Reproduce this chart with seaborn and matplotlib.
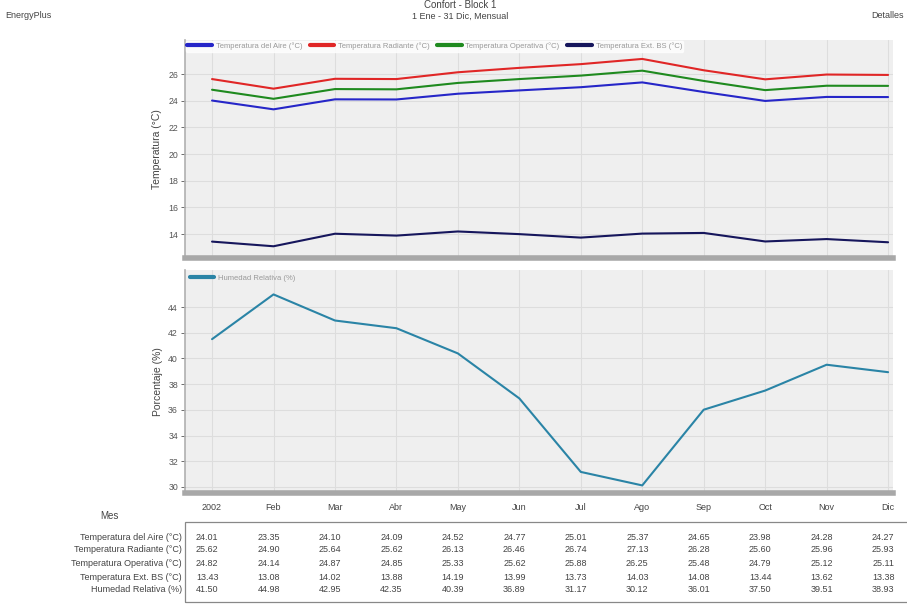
import numpy as np
import pandas as pd
import seaborn as sns
import matplotlib.pyplot as plt
import matplotlib.transforms as mtransforms
from matplotlib.patches import Rectangle

# -------------------------------------------------------
# Confort - Block 1, monthly values
# -------------------------------------------------------
months = ['2002', 'Feb', 'Mar', 'Abr', 'May', 'Jun', 'Jul', 'Ago', 'Sep', 'Oct', 'Nov', 'Dic']
t_aire = [24.01, 23.35, 24.10, 24.09, 24.52, 24.77, 25.01, 25.37, 24.65, 23.98, 24.28, 24.27]
t_rad = [25.62, 24.90, 25.64, 25.62, 26.13, 26.46, 26.74, 27.13, 26.28, 25.60, 25.96, 25.93]
t_oper = [24.82, 24.14, 24.87, 24.85, 25.33, 25.62, 25.88, 26.25, 25.48, 24.79, 25.12, 25.11]
t_ext = [13.43, 13.08, 14.02, 13.88, 14.19, 13.99, 13.73, 14.03, 14.08, 13.44, 13.62, 13.38]
hum_rel = [41.50, 44.98, 42.95, 42.35, 40.39, 36.89, 31.17, 30.12, 36.01, 37.50, 39.51, 38.93]

temp_labels = ['Temperatura del Aire (°C)', 'Temperatura Radiante (°C)',
               'Temperatura Operativa (°C)', 'Temperatura Ext. BS (°C)']
hum_label = 'Humedad Relativa (%)'
temp_colors = ['#2626c8', '#e02626', '#1f8a1f', '#16165c']
hum_color = '#2a84a6'

sns.set_theme(style='whitegrid')
plt.rcParams['font.family'] = ['Liberation Sans', 'DejaVu Sans']

df = pd.DataFrame({'mes': np.arange(12)})

fig = plt.figure(figsize=(9.07, 6.07), dpi=100)
fig.set_facecolor('white')
W, H = 907, 607

def box(x0, y0, x1, y1):
    return [x0 / W, 1 - y1 / H, (x1 - x0) / W, (y1 - y0) / H]

ax1 = fig.add_axes(box(185, 40, 893, 258))
ax2 = fig.add_axes(box(185, 270, 893, 493))

txt = '#444444'
for ax in (ax1, ax2):
    ax.set_facecolor('#efefef')
    ax.grid(True, color='#dddddd', linewidth=0.8)
    for s in ['top', 'right']:
        ax.spines[s].set_visible(False)
    ax.spines['left'].set_color('#b0b0b0')
    ax.spines['left'].set_linewidth(1.2)
    ax.spines['bottom'].set_color('#a8a8a8')
    ax.spines['bottom'].set_linewidth(4)
    ax.tick_params(axis='y', colors='#555555', labelsize=6.3, length=3, width=0.6, left=True, pad=2)
    ax.set_xlim(-0.44, 11.08)
    ax.set_xticks(range(12))

# top panel: temperatures
for vals, lab, col in zip([t_aire, t_rad, t_oper, t_ext], temp_labels, temp_colors):
    sns.lineplot(x=df['mes'], y=vals, ax=ax1, color=col, linewidth=1.5, label=lab)
ax1.set_ylim(12.2, 28.55)
ax1.set_yticks([14, 16, 18, 20, 22, 24, 26])
ax1.set_xticklabels([])
ax1.tick_params(axis='x', length=0)
ax1.set_xlabel('')
ax1.set_ylabel('Temperatura (°C)', color=txt, fontsize=7.5, labelpad=4)
leg1 = ax1.legend(loc='upper left', bbox_to_anchor=(0.0, 1.0), ncol=4, frameon=True,
                  fontsize=5.5, handlelength=3.2, handletextpad=0.5, columnspacing=1.0,
                  borderaxespad=0.1, borderpad=0.2)
leg1.get_frame().set_facecolor('white')
leg1.get_frame().set_edgecolor('white')
for t in leg1.get_texts():
    t.set_color('#999999')
for h in leg1.get_lines():
    h.set_linewidth(3)

# bottom panel: humidity
sns.lineplot(x=df['mes'], y=hum_rel, ax=ax2, color=hum_color, linewidth=1.5, label=hum_label)
ax2.set_ylim(29.53, 46.88)
ax2.set_yticks([30, 32, 34, 36, 38, 40, 42, 44])
ax2.set_xticklabels(months)
ax2.tick_params(axis='x', colors=txt, labelsize=6.5, length=0, pad=7)
ax2.set_xlabel('')
ax2.set_ylabel('Porcentaje (%)', color=txt, fontsize=7.5, labelpad=4)
leg2 = ax2.legend(loc='upper left', bbox_to_anchor=(0.0, 1.0), frameon=False,
                  fontsize=5.5, handlelength=3.2, handletextpad=0.5, borderaxespad=0.2)
for t in leg2.get_texts():
    t.set_color('#999999')
for h in leg2.get_lines():
    h.set_linewidth(3)

# header
fig.text(5 / W, 1 - 15 / H, 'EnergyPlus', fontsize=6.5, color=txt, va='center')
fig.text(460 / W, 1 - 5 / H, 'Confort - Block 1', fontsize=7, color=txt, ha='center', va='center')
fig.text(460 / W, 1 - 16 / H, '1 Ene - 31 Dic, Mensual', fontsize=6.5, color=txt, ha='center', va='center')
fig.text(904 / W, 1 - 15 / H, 'Detalles', fontsize=6.5, color=txt, ha='right', va='center')

# data table
fig.text(100 / W, 1 - 516 / H, 'Mes', fontsize=7, color=txt, va='center')
fig.patches.append(Rectangle((185 / W, 1 - 602 / H), 730 / W, 80 / H, transform=fig.transFigure,
                             fill=False, edgecolor='#888888', linewidth=0.9))
row_names = ['Temperatura del Aire (°C)', 'Temperatura Radiante (°C)', 'Temperatura Operativa (°C)',
             'Temperatura Ext. BS (°C)', 'Humedad Relativa (%)']
row_vals = [t_aire, t_rad, t_oper, t_ext, hum_rel]
row_y = [537, 550, 563, 577, 590]
trans = mtransforms.blended_transform_factory(ax2.transData, fig.transFigure)
for name, vals, y in zip(row_names, row_vals, row_y):
    fig.text(182 / W, 1 - y / H, name, fontsize=6.5, color=txt, ha='right', va='center')
    for i, v in enumerate(vals):
        fig.text(i - 0.08, 1 - y / H, f'{v:.2f}', transform=trans, fontsize=6.5, color=txt,
                 ha='center', va='center')

fig.savefig('out.png', dpi=100, facecolor='white')
